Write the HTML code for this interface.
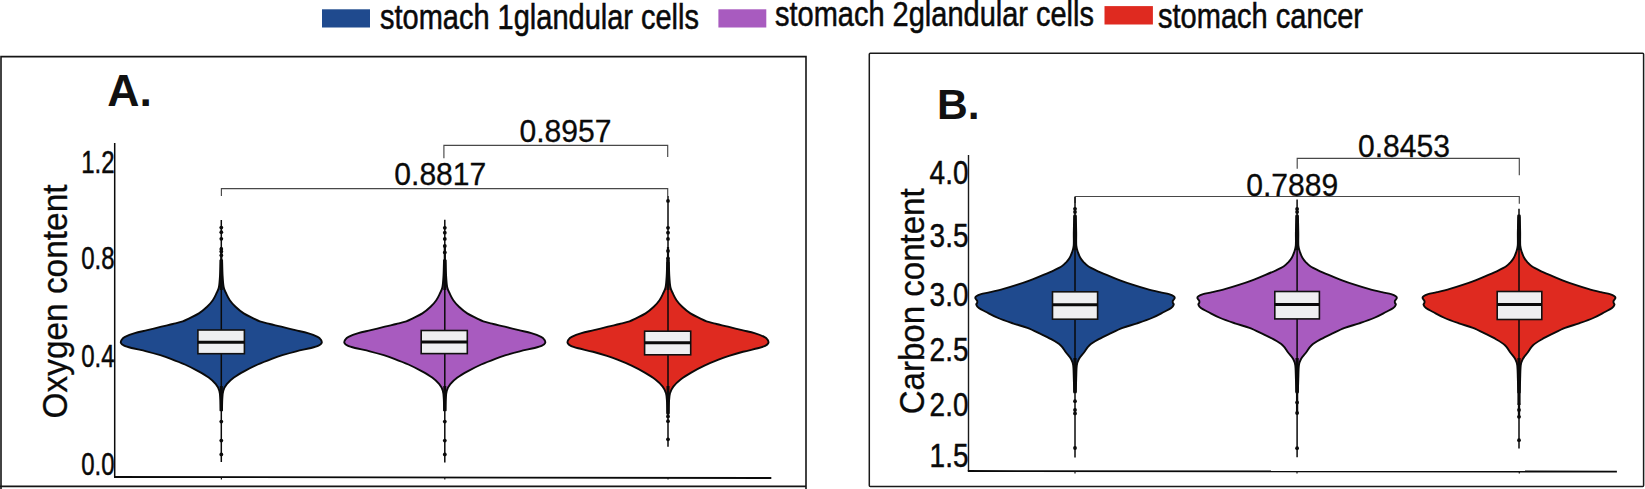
<!DOCTYPE html>
<html lang="en"><head><meta charset="utf-8"><title>Violin plots</title>
<style>html,body{margin:0;padding:0;background:#fff}body{width:1645px;height:489px;overflow:hidden}</style></head>
<body>
<svg width="1645" height="489" viewBox="0 0 1645 489" style="display:block" font-family="'Liberation Sans', Arial, Helvetica, sans-serif">
<rect width="1645" height="489" fill="#fff"/>
<rect x="322.0" y="9.3" width="48.0" height="18.2" fill="#1f4a8e"/>
<rect x="718.4" y="9.3" width="47.9" height="18.2" fill="#a85bbf"/>
<rect x="1104.5" y="6.1" width="48.4" height="18.4" fill="#df2a20"/>
<text x="380.0" y="29.0" font-size="35.8" textLength="319.0" lengthAdjust="spacingAndGlyphs" fill="#0a0a0a" stroke="#0a0a0a" stroke-width="0.55">stomach 1glandular cells</text>
<text x="775.0" y="25.5" font-size="35.8" textLength="319.0" lengthAdjust="spacingAndGlyphs" fill="#0a0a0a" stroke="#0a0a0a" stroke-width="0.55">stomach 2glandular cells</text>
<text x="1158.0" y="27.5" font-size="35.8" textLength="205.0" lengthAdjust="spacingAndGlyphs" fill="#0a0a0a" stroke="#0a0a0a" stroke-width="0.55">stomach cancer</text>
<path d="M1 489 V56.6 H806 V489 M0 486.4 H806.7" fill="none" stroke="#151515" stroke-width="1.6"/>
<rect x="869.3" y="53.3" width="774.3" height="433.2" rx="1" fill="none" stroke="#1a1a1a" stroke-width="1.5"/>
<text x="107.3" y="105.9" font-size="44.6" font-weight="bold" fill="#111">A.</text>
<text x="937" y="119.1" font-size="42.6" font-weight="bold" fill="#111">B.</text>
<path d="M114.7 142.9 V477.1" fill="none" stroke="#0a0a0a" stroke-width="1.5"/>
<path d="M114 477 L771.3 478" fill="none" stroke="#0a0a0a" stroke-width="1.8"/>
<line x1="221.4" y1="477" x2="221.4" y2="479.5" stroke="#111" stroke-width="1.2"/>
<line x1="444.8" y1="477" x2="444.8" y2="479.5" stroke="#111" stroke-width="1.2"/>
<line x1="668.0" y1="477" x2="668.0" y2="479.5" stroke="#111" stroke-width="1.2"/>
<path d="M968.5 155.1 V471" fill="none" stroke="#1a1a1a" stroke-width="1.4"/>
<path d="M967.8 471 L1616.9 471.6" fill="none" stroke="#0a0a0a" stroke-width="1.8"/>
<line x1="1075.0" y1="471" x2="1075.0" y2="473.5" stroke="#111" stroke-width="1.2"/>
<line x1="1297.0" y1="471" x2="1297.0" y2="473.5" stroke="#111" stroke-width="1.2"/>
<line x1="1519.3" y1="471" x2="1519.3" y2="473.5" stroke="#111" stroke-width="1.2"/>
<text transform="translate(114.6 172.7) scale(0.745 1)" text-anchor="end" font-size="32.2" fill="#0a0a0a" stroke="#0a0a0a" stroke-width="0.5">1.2</text>
<text transform="translate(114.6 269.2) scale(0.745 1)" text-anchor="end" font-size="32.2" fill="#0a0a0a" stroke="#0a0a0a" stroke-width="0.5">0.8</text>
<text transform="translate(114.6 367.2) scale(0.745 1)" text-anchor="end" font-size="32.2" fill="#0a0a0a" stroke="#0a0a0a" stroke-width="0.5">0.4</text>
<text transform="translate(114.6 474.8) scale(0.745 1)" text-anchor="end" font-size="32.2" fill="#0a0a0a" stroke="#0a0a0a" stroke-width="0.5">0.0</text>
<text transform="translate(968.5 184.2) scale(0.840 1)" text-anchor="end" font-size="33.3" fill="#0a0a0a" stroke="#0a0a0a" stroke-width="0.5">4.0</text>
<text transform="translate(968.5 247.2) scale(0.840 1)" text-anchor="end" font-size="33.3" fill="#0a0a0a" stroke="#0a0a0a" stroke-width="0.5">3.5</text>
<text transform="translate(968.5 305.7) scale(0.840 1)" text-anchor="end" font-size="33.3" fill="#0a0a0a" stroke="#0a0a0a" stroke-width="0.5">3.0</text>
<text transform="translate(968.5 360.5) scale(0.840 1)" text-anchor="end" font-size="33.3" fill="#0a0a0a" stroke="#0a0a0a" stroke-width="0.5">2.5</text>
<text transform="translate(968.5 415.7) scale(0.840 1)" text-anchor="end" font-size="33.3" fill="#0a0a0a" stroke="#0a0a0a" stroke-width="0.5">2.0</text>
<text transform="translate(968.5 466.9) scale(0.840 1)" text-anchor="end" font-size="33.3" fill="#0a0a0a" stroke="#0a0a0a" stroke-width="0.5">1.5</text>
<text transform="translate(67.4 418.5) rotate(-90)" font-size="35" textLength="234" lengthAdjust="spacingAndGlyphs" fill="#0a0a0a" stroke="#0a0a0a" stroke-width="0.3">Oxygen content</text>
<text transform="translate(924 414.3) rotate(-90)" font-size="34.5" textLength="226" lengthAdjust="spacingAndGlyphs" fill="#0a0a0a" stroke="#0a0a0a" stroke-width="0.3">Carbon content</text>
<path d="M443.9 158.2 V145.3 H667.7 V156.9" fill="none" stroke="#484848" stroke-width="1.15"/>
<path d="M221.4 195.9 V188.6 H667.7 V196.0" fill="none" stroke="#484848" stroke-width="1.15"/>
<path d="M1297.2 168.8 V158.3 H1519.3 V175.2" fill="none" stroke="#484848" stroke-width="1.15"/>
<path d="M1075.1 203.0 V196.5 H1519.3 V203.7" fill="none" stroke="#484848" stroke-width="1.15"/>
<text x="519.5" y="142.2" font-size="31.8" textLength="92" lengthAdjust="spacingAndGlyphs" fill="#0a0a0a" stroke="#0a0a0a" stroke-width="0.3">0.8957</text>
<text x="394.3" y="185.2" font-size="31.8" textLength="92" lengthAdjust="spacingAndGlyphs" fill="#0a0a0a" stroke="#0a0a0a" stroke-width="0.3">0.8817</text>
<text x="1358.0" y="157.4" font-size="31.8" textLength="92" lengthAdjust="spacingAndGlyphs" fill="#0a0a0a" stroke="#0a0a0a" stroke-width="0.3">0.8453</text>
<text x="1246.2" y="195.8" font-size="31.8" textLength="92" lengthAdjust="spacingAndGlyphs" fill="#0a0a0a" stroke="#0a0a0a" stroke-width="0.3">0.7889</text>
<path d="M220.50 260.20 C220.42 262.78 220.27 271.20 220.00 275.70 C219.73 280.20 219.52 284.20 218.90 287.20 C218.28 290.20 217.32 291.53 216.30 293.70 C215.28 295.87 214.33 298.02 212.80 300.20 C211.27 302.38 209.42 304.60 207.10 306.80 C204.78 309.00 201.87 311.48 198.90 313.40 C195.93 315.32 191.98 316.97 189.30 318.30 C186.62 319.63 185.55 320.45 182.80 321.40 C180.05 322.35 176.38 323.12 172.80 324.00 C169.22 324.88 165.55 325.67 161.30 326.70 C157.05 327.73 151.72 329.12 147.30 330.20 C142.88 331.28 138.52 332.08 134.80 333.20 C131.08 334.32 127.17 335.83 125.00 336.90 C122.83 337.97 122.48 338.62 121.80 339.60 C121.12 340.58 120.52 341.79 120.90 342.80 C121.28 343.81 122.33 344.80 124.10 345.66 C125.87 346.52 127.80 347.02 131.50 347.96 C135.20 348.90 141.50 350.09 146.30 351.30 C151.10 352.51 156.22 353.95 160.30 355.20 C164.38 356.45 166.70 357.25 170.80 358.80 C174.90 360.35 180.35 362.45 184.90 364.50 C189.45 366.55 194.13 368.92 198.10 371.10 C202.07 373.28 205.75 375.42 208.70 377.60 C211.65 379.78 214.03 382.02 215.80 384.20 C217.57 386.38 218.55 388.25 219.30 390.70 C220.05 393.15 220.08 395.62 220.30 398.90 C220.52 402.18 220.55 408.48 220.60 410.40 L222.00 410.40 C222.05 408.48 222.08 402.18 222.30 398.90 C222.52 395.62 222.55 393.15 223.30 390.70 C224.05 388.25 225.03 386.38 226.80 384.20 C228.57 382.02 230.95 379.78 233.90 377.60 C236.85 375.42 240.53 373.28 244.50 371.10 C248.47 368.92 253.15 366.55 257.70 364.50 C262.25 362.45 267.70 360.35 271.80 358.80 C275.90 357.25 278.22 356.45 282.30 355.20 C286.38 353.95 291.50 352.51 296.30 351.30 C301.10 350.09 307.40 348.90 311.10 347.96 C314.80 347.02 316.73 346.52 318.50 345.66 C320.27 344.80 321.32 343.81 321.70 342.80 C322.08 341.79 321.48 340.58 320.80 339.60 C320.12 338.62 319.77 337.97 317.60 336.90 C315.43 335.83 311.52 334.32 307.80 333.20 C304.08 332.08 299.72 331.28 295.30 330.20 C290.88 329.12 285.55 327.73 281.30 326.70 C277.05 325.67 273.38 324.88 269.80 324.00 C266.22 323.12 262.55 322.35 259.80 321.40 C257.05 320.45 255.98 319.63 253.30 318.30 C250.62 316.97 246.67 315.32 243.70 313.40 C240.73 311.48 237.82 309.00 235.50 306.80 C233.18 304.60 231.33 302.38 229.80 300.20 C228.27 298.02 227.32 295.87 226.30 293.70 C225.28 291.53 224.32 290.20 223.70 287.20 C223.08 284.20 222.87 280.20 222.60 275.70 C222.33 271.20 222.18 262.78 222.10 260.20 Z" fill="#1f4a8e" stroke="#0a0a0a" stroke-width="1.9" stroke-linejoin="round"/>
<line x1="221.3" y1="220.0" x2="221.3" y2="462.0" stroke="#0a0a0a" stroke-width="1.5"/>
<line x1="221.3" y1="247.0" x2="221.3" y2="262.0" stroke="#0a0a0a" stroke-width="2.2"/>
<line x1="221.3" y1="260.0" x2="221.3" y2="290.0" stroke="#0a0a0a" stroke-width="3.0"/>
<line x1="221.3" y1="386.0" x2="221.3" y2="411.0" stroke="#0a0a0a" stroke-width="3.0"/>
<circle cx="221.3" cy="227.6" r="1.9" fill="#0a0a0a"/>
<circle cx="221.3" cy="232.2" r="1.9" fill="#0a0a0a"/>
<circle cx="221.3" cy="238.8" r="1.9" fill="#0a0a0a"/>
<circle cx="221.3" cy="249.1" r="1.9" fill="#0a0a0a"/>
<circle cx="221.3" cy="251.6" r="1.9" fill="#0a0a0a"/>
<circle cx="221.3" cy="255.3" r="1.9" fill="#0a0a0a"/>
<circle cx="221.3" cy="421.6" r="1.9" fill="#0a0a0a"/>
<circle cx="221.3" cy="440.6" r="1.9" fill="#0a0a0a"/>
<circle cx="221.3" cy="454.4" r="1.9" fill="#0a0a0a"/>
<rect x="197.9" y="330.0" width="46.5" height="23.7" fill="#eeeff1" stroke="#111" stroke-width="1.6"/>
<line x1="197.9" y1="342.3" x2="244.4" y2="342.3" stroke="#0a0a0a" stroke-width="3"/>
<path d="M444.00 260.20 C443.92 262.78 443.77 271.20 443.50 275.70 C443.23 280.20 443.02 284.20 442.40 287.20 C441.78 290.20 440.82 291.53 439.80 293.70 C438.78 295.87 437.83 298.02 436.30 300.20 C434.77 302.38 432.92 304.60 430.60 306.80 C428.28 309.00 425.37 311.48 422.40 313.40 C419.43 315.32 415.48 316.97 412.80 318.30 C410.12 319.63 409.05 320.45 406.30 321.40 C403.55 322.35 399.88 323.12 396.30 324.00 C392.72 324.88 389.05 325.67 384.80 326.70 C380.55 327.73 375.22 329.12 370.80 330.20 C366.38 331.28 362.02 332.08 358.30 333.20 C354.58 334.32 350.67 335.83 348.50 336.90 C346.33 337.97 345.98 338.62 345.30 339.60 C344.62 340.58 344.02 341.79 344.40 342.80 C344.78 343.81 345.83 344.80 347.60 345.66 C349.37 346.52 351.30 347.02 355.00 347.96 C358.70 348.90 365.00 350.09 369.80 351.30 C374.60 352.51 379.72 353.95 383.80 355.20 C387.88 356.45 390.20 357.25 394.30 358.80 C398.40 360.35 403.85 362.45 408.40 364.50 C412.95 366.55 417.63 368.92 421.60 371.10 C425.57 373.28 429.25 375.42 432.20 377.60 C435.15 379.78 437.53 382.02 439.30 384.20 C441.07 386.38 442.05 388.25 442.80 390.70 C443.55 393.15 443.58 395.62 443.80 398.90 C444.02 402.18 444.05 408.48 444.10 410.40 L445.50 410.40 C445.55 408.48 445.58 402.18 445.80 398.90 C446.02 395.62 446.05 393.15 446.80 390.70 C447.55 388.25 448.53 386.38 450.30 384.20 C452.07 382.02 454.45 379.78 457.40 377.60 C460.35 375.42 464.03 373.28 468.00 371.10 C471.97 368.92 476.65 366.55 481.20 364.50 C485.75 362.45 491.20 360.35 495.30 358.80 C499.40 357.25 501.72 356.45 505.80 355.20 C509.88 353.95 515.00 352.51 519.80 351.30 C524.60 350.09 530.90 348.90 534.60 347.96 C538.30 347.02 540.23 346.52 542.00 345.66 C543.77 344.80 544.82 343.81 545.20 342.80 C545.58 341.79 544.98 340.58 544.30 339.60 C543.62 338.62 543.27 337.97 541.10 336.90 C538.93 335.83 535.02 334.32 531.30 333.20 C527.58 332.08 523.22 331.28 518.80 330.20 C514.38 329.12 509.05 327.73 504.80 326.70 C500.55 325.67 496.88 324.88 493.30 324.00 C489.72 323.12 486.05 322.35 483.30 321.40 C480.55 320.45 479.48 319.63 476.80 318.30 C474.12 316.97 470.17 315.32 467.20 313.40 C464.23 311.48 461.32 309.00 459.00 306.80 C456.68 304.60 454.83 302.38 453.30 300.20 C451.77 298.02 450.82 295.87 449.80 293.70 C448.78 291.53 447.82 290.20 447.20 287.20 C446.58 284.20 446.37 280.20 446.10 275.70 C445.83 271.20 445.68 262.78 445.60 260.20 Z" fill="#a85bbf" stroke="#0a0a0a" stroke-width="1.9" stroke-linejoin="round"/>
<line x1="444.8" y1="219.7" x2="444.8" y2="462.5" stroke="#0a0a0a" stroke-width="1.5"/>
<line x1="444.8" y1="247.0" x2="444.8" y2="262.0" stroke="#0a0a0a" stroke-width="2.2"/>
<line x1="444.8" y1="260.0" x2="444.8" y2="290.0" stroke="#0a0a0a" stroke-width="3.0"/>
<line x1="444.8" y1="386.0" x2="444.8" y2="411.0" stroke="#0a0a0a" stroke-width="3.0"/>
<circle cx="444.8" cy="227.8" r="1.9" fill="#0a0a0a"/>
<circle cx="444.8" cy="232.7" r="1.9" fill="#0a0a0a"/>
<circle cx="444.8" cy="238.9" r="1.9" fill="#0a0a0a"/>
<circle cx="444.8" cy="246.0" r="1.9" fill="#0a0a0a"/>
<circle cx="444.8" cy="252.4" r="1.9" fill="#0a0a0a"/>
<circle cx="444.8" cy="421.6" r="1.9" fill="#0a0a0a"/>
<circle cx="444.8" cy="440.6" r="1.9" fill="#0a0a0a"/>
<circle cx="444.8" cy="454.4" r="1.9" fill="#0a0a0a"/>
<rect x="421.2" y="330.5" width="46.1" height="23.1" fill="#eeeff1" stroke="#111" stroke-width="1.6"/>
<line x1="421.2" y1="342.0" x2="467.3" y2="342.0" stroke="#0a0a0a" stroke-width="3"/>
<path d="M667.20 260.20 C667.12 262.78 666.97 271.20 666.70 275.70 C666.43 280.20 666.22 284.20 665.60 287.20 C664.98 290.20 664.02 291.53 663.00 293.70 C661.98 295.87 661.03 298.02 659.50 300.20 C657.97 302.38 656.12 304.60 653.80 306.80 C651.48 309.00 648.57 311.48 645.60 313.40 C642.63 315.32 638.68 316.97 636.00 318.30 C633.32 319.63 632.25 320.45 629.50 321.40 C626.75 322.35 623.08 323.12 619.50 324.00 C615.92 324.88 612.25 325.67 608.00 326.70 C603.75 327.73 598.42 329.12 594.00 330.20 C589.58 331.28 585.22 332.08 581.50 333.20 C577.78 334.32 573.87 335.83 571.70 336.90 C569.53 337.97 569.18 338.61 568.50 339.60 C567.82 340.59 567.22 341.82 567.60 342.86 C567.98 343.90 569.03 344.97 570.80 345.87 C572.57 346.77 574.50 347.29 578.20 348.28 C581.90 349.26 588.20 350.52 593.00 351.79 C597.80 353.05 602.92 354.57 607.00 355.88 C611.08 357.19 613.40 358.03 617.50 359.66 C621.60 361.29 627.05 363.49 631.60 365.64 C636.15 367.80 640.83 370.28 644.80 372.58 C648.77 374.87 652.45 377.11 655.40 379.40 C658.35 381.69 660.73 384.04 662.50 386.33 C664.27 388.62 665.25 390.58 666.00 393.15 C666.75 395.73 666.78 398.32 667.00 401.76 C667.22 405.21 667.25 411.83 667.30 413.84 L668.70 413.84 C668.75 411.83 668.78 405.21 669.00 401.76 C669.22 398.32 669.25 395.73 670.00 393.15 C670.75 390.58 671.73 388.62 673.50 386.33 C675.27 384.04 677.65 381.69 680.60 379.40 C683.55 377.11 687.23 374.87 691.20 372.58 C695.17 370.28 699.85 367.80 704.40 365.64 C708.95 363.49 714.40 361.29 718.50 359.66 C722.60 358.03 724.92 357.19 729.00 355.88 C733.08 354.57 738.20 353.05 743.00 351.79 C747.80 350.52 754.10 349.26 757.80 348.28 C761.50 347.29 763.43 346.77 765.20 345.87 C766.97 344.97 768.02 343.90 768.40 342.86 C768.78 341.82 768.18 340.59 767.50 339.60 C766.82 338.61 766.47 337.97 764.30 336.90 C762.13 335.83 758.22 334.32 754.50 333.20 C750.78 332.08 746.42 331.28 742.00 330.20 C737.58 329.12 732.25 327.73 728.00 326.70 C723.75 325.67 720.08 324.88 716.50 324.00 C712.92 323.12 709.25 322.35 706.50 321.40 C703.75 320.45 702.68 319.63 700.00 318.30 C697.32 316.97 693.37 315.32 690.40 313.40 C687.43 311.48 684.52 309.00 682.20 306.80 C679.88 304.60 678.03 302.38 676.50 300.20 C674.97 298.02 674.02 295.87 673.00 293.70 C671.98 291.53 671.02 290.20 670.40 287.20 C669.78 284.20 669.57 280.20 669.30 275.70 C669.03 271.20 668.88 262.78 668.80 260.20 Z" fill="#df2a20" stroke="#0a0a0a" stroke-width="1.9" stroke-linejoin="round"/>
<line x1="668.0" y1="196.0" x2="668.0" y2="446.8" stroke="#0a0a0a" stroke-width="1.5"/>
<line x1="668.0" y1="247.0" x2="668.0" y2="264.0" stroke="#0a0a0a" stroke-width="2.2"/>
<line x1="668.0" y1="262.0" x2="668.0" y2="290.0" stroke="#0a0a0a" stroke-width="3.0"/>
<line x1="668.0" y1="386.0" x2="668.0" y2="413.5" stroke="#0a0a0a" stroke-width="3.0"/>
<circle cx="668.0" cy="200.9" r="1.9" fill="#0a0a0a"/>
<circle cx="668.0" cy="227.8" r="1.9" fill="#0a0a0a"/>
<circle cx="668.0" cy="232.7" r="1.9" fill="#0a0a0a"/>
<circle cx="668.0" cy="238.9" r="1.9" fill="#0a0a0a"/>
<circle cx="668.0" cy="251.0" r="1.9" fill="#0a0a0a"/>
<circle cx="668.0" cy="258.5" r="1.9" fill="#0a0a0a"/>
<circle cx="668.0" cy="416.5" r="1.9" fill="#0a0a0a"/>
<circle cx="668.0" cy="421.2" r="1.9" fill="#0a0a0a"/>
<circle cx="668.0" cy="439.3" r="1.9" fill="#0a0a0a"/>
<rect x="644.6" y="331.2" width="46.1" height="23.6" fill="#eeeff1" stroke="#111" stroke-width="1.6"/>
<line x1="644.6" y1="342.7" x2="690.7" y2="342.7" stroke="#0a0a0a" stroke-width="3"/>
<path d="M1074.20 215.40 C1074.13 218.23 1073.88 227.35 1073.80 232.40 C1073.72 237.45 1074.00 242.37 1073.70 245.70 C1073.40 249.03 1072.67 250.40 1072.00 252.40 C1071.33 254.40 1070.67 256.05 1069.70 257.70 C1068.73 259.35 1067.52 260.87 1066.20 262.30 C1064.88 263.73 1063.83 264.97 1061.80 266.30 C1059.77 267.63 1057.07 268.87 1054.00 270.30 C1050.93 271.73 1047.40 273.23 1043.40 274.90 C1039.40 276.57 1034.45 278.63 1030.00 280.30 C1025.55 281.97 1021.12 283.47 1016.70 284.90 C1012.28 286.33 1007.92 287.68 1003.50 288.90 C999.08 290.12 993.95 291.32 990.20 292.20 C986.45 293.08 983.32 293.53 981.00 294.20 C978.68 294.87 977.25 295.53 976.30 296.20 C975.35 296.87 975.17 297.45 975.30 298.20 C975.43 298.95 976.78 299.93 977.10 300.70 C977.42 301.47 977.33 302.13 977.20 302.80 C977.07 303.47 976.03 303.83 976.30 304.70 C976.57 305.57 977.15 306.78 978.80 308.00 C980.45 309.22 982.97 310.33 986.20 312.00 C989.43 313.67 993.77 316.12 998.20 318.00 C1002.63 319.88 1007.93 321.65 1012.80 323.30 C1017.67 324.95 1022.77 326.13 1027.40 327.90 C1032.03 329.67 1036.63 332.02 1040.60 333.90 C1044.57 335.78 1047.88 337.32 1051.20 339.20 C1054.52 341.08 1058.03 342.98 1060.50 345.20 C1062.97 347.42 1064.22 350.17 1066.00 352.50 C1067.78 354.83 1070.00 357.05 1071.20 359.20 C1072.40 361.35 1072.77 362.20 1073.20 365.40 C1073.63 368.60 1073.63 373.90 1073.80 378.40 C1073.97 382.90 1074.13 390.07 1074.20 392.40 L1075.80 392.40 C1075.87 390.07 1076.03 382.90 1076.20 378.40 C1076.37 373.90 1076.37 368.60 1076.80 365.40 C1077.23 362.20 1077.60 361.35 1078.80 359.20 C1080.00 357.05 1082.22 354.83 1084.00 352.50 C1085.78 350.17 1087.03 347.42 1089.50 345.20 C1091.97 342.98 1095.48 341.08 1098.80 339.20 C1102.12 337.32 1105.43 335.78 1109.40 333.90 C1113.37 332.02 1117.97 329.67 1122.60 327.90 C1127.23 326.13 1132.33 324.95 1137.20 323.30 C1142.07 321.65 1147.37 319.88 1151.80 318.00 C1156.23 316.12 1160.57 313.67 1163.80 312.00 C1167.03 310.33 1169.55 309.22 1171.20 308.00 C1172.85 306.78 1173.43 305.57 1173.70 304.70 C1173.97 303.83 1172.93 303.47 1172.80 302.80 C1172.67 302.13 1172.58 301.47 1172.90 300.70 C1173.22 299.93 1174.57 298.95 1174.70 298.20 C1174.83 297.45 1174.65 296.87 1173.70 296.20 C1172.75 295.53 1171.32 294.87 1169.00 294.20 C1166.68 293.53 1163.55 293.08 1159.80 292.20 C1156.05 291.32 1150.92 290.12 1146.50 288.90 C1142.08 287.68 1137.72 286.33 1133.30 284.90 C1128.88 283.47 1124.45 281.97 1120.00 280.30 C1115.55 278.63 1110.60 276.57 1106.60 274.90 C1102.60 273.23 1099.07 271.73 1096.00 270.30 C1092.93 268.87 1090.23 267.63 1088.20 266.30 C1086.17 264.97 1085.12 263.73 1083.80 262.30 C1082.48 260.87 1081.27 259.35 1080.30 257.70 C1079.33 256.05 1078.67 254.40 1078.00 252.40 C1077.33 250.40 1076.60 249.03 1076.30 245.70 C1076.00 242.37 1076.28 237.45 1076.20 232.40 C1076.12 227.35 1075.87 218.23 1075.80 215.40 Z" fill="#1f4a8e" stroke="#0a0a0a" stroke-width="1.9" stroke-linejoin="round"/>
<line x1="1075.0" y1="197.0" x2="1075.0" y2="457.6" stroke="#0a0a0a" stroke-width="1.5"/>
<line x1="1075.0" y1="216.0" x2="1075.0" y2="234.0" stroke="#0a0a0a" stroke-width="2.8"/>
<line x1="1075.0" y1="232.0" x2="1075.0" y2="250.0" stroke="#0a0a0a" stroke-width="3.4"/>
<line x1="1075.0" y1="358.0" x2="1075.0" y2="392.0" stroke="#0a0a0a" stroke-width="3.2"/>
<circle cx="1075.0" cy="208.8" r="1.9" fill="#0a0a0a"/>
<circle cx="1075.0" cy="212.0" r="1.9" fill="#0a0a0a"/>
<circle cx="1075.0" cy="401.2" r="1.9" fill="#0a0a0a"/>
<circle cx="1075.0" cy="410.0" r="1.9" fill="#0a0a0a"/>
<circle cx="1075.0" cy="413.4" r="1.9" fill="#0a0a0a"/>
<circle cx="1075.0" cy="448.0" r="1.9" fill="#0a0a0a"/>
<rect x="1052.5" y="291.8" width="45.1" height="27.4" fill="#eeeff1" stroke="#111" stroke-width="1.6"/>
<line x1="1052.5" y1="304.7" x2="1097.6" y2="304.7" stroke="#0a0a0a" stroke-width="3"/>
<path d="M1296.30 215.40 C1296.23 218.23 1295.98 227.35 1295.90 232.40 C1295.82 237.45 1296.10 242.37 1295.80 245.70 C1295.50 249.03 1294.77 250.40 1294.10 252.40 C1293.43 254.40 1292.77 256.05 1291.80 257.70 C1290.83 259.35 1289.62 260.87 1288.30 262.30 C1286.98 263.73 1285.93 264.97 1283.90 266.30 C1281.87 267.63 1279.17 268.87 1276.10 270.30 C1273.03 271.73 1269.50 273.23 1265.50 274.90 C1261.50 276.57 1256.55 278.63 1252.10 280.30 C1247.65 281.97 1243.22 283.47 1238.80 284.90 C1234.38 286.33 1230.02 287.68 1225.60 288.90 C1221.18 290.12 1216.05 291.32 1212.30 292.20 C1208.55 293.08 1205.42 293.53 1203.10 294.20 C1200.78 294.87 1199.35 295.53 1198.40 296.20 C1197.45 296.87 1197.27 297.45 1197.40 298.20 C1197.53 298.95 1198.88 299.93 1199.20 300.70 C1199.52 301.47 1199.43 302.13 1199.30 302.80 C1199.17 303.47 1198.13 303.83 1198.40 304.70 C1198.67 305.57 1199.25 306.78 1200.90 308.00 C1202.55 309.22 1205.07 310.33 1208.30 312.00 C1211.53 313.67 1215.87 316.12 1220.30 318.00 C1224.73 319.88 1230.03 321.65 1234.90 323.30 C1239.77 324.95 1244.87 326.13 1249.50 327.90 C1254.13 329.67 1258.73 332.02 1262.70 333.90 C1266.67 335.78 1269.98 337.32 1273.30 339.20 C1276.62 341.08 1280.13 342.98 1282.60 345.20 C1285.07 347.42 1286.32 350.17 1288.10 352.50 C1289.88 354.83 1292.10 357.05 1293.30 359.20 C1294.50 361.35 1294.87 362.20 1295.30 365.40 C1295.73 368.60 1295.73 373.90 1295.90 378.40 C1296.07 382.90 1296.23 390.07 1296.30 392.40 L1297.90 392.40 C1297.97 390.07 1298.13 382.90 1298.30 378.40 C1298.47 373.90 1298.47 368.60 1298.90 365.40 C1299.33 362.20 1299.70 361.35 1300.90 359.20 C1302.10 357.05 1304.32 354.83 1306.10 352.50 C1307.88 350.17 1309.13 347.42 1311.60 345.20 C1314.07 342.98 1317.58 341.08 1320.90 339.20 C1324.22 337.32 1327.53 335.78 1331.50 333.90 C1335.47 332.02 1340.07 329.67 1344.70 327.90 C1349.33 326.13 1354.43 324.95 1359.30 323.30 C1364.17 321.65 1369.47 319.88 1373.90 318.00 C1378.33 316.12 1382.67 313.67 1385.90 312.00 C1389.13 310.33 1391.65 309.22 1393.30 308.00 C1394.95 306.78 1395.53 305.57 1395.80 304.70 C1396.07 303.83 1395.03 303.47 1394.90 302.80 C1394.77 302.13 1394.68 301.47 1395.00 300.70 C1395.32 299.93 1396.67 298.95 1396.80 298.20 C1396.93 297.45 1396.75 296.87 1395.80 296.20 C1394.85 295.53 1393.42 294.87 1391.10 294.20 C1388.78 293.53 1385.65 293.08 1381.90 292.20 C1378.15 291.32 1373.02 290.12 1368.60 288.90 C1364.18 287.68 1359.82 286.33 1355.40 284.90 C1350.98 283.47 1346.55 281.97 1342.10 280.30 C1337.65 278.63 1332.70 276.57 1328.70 274.90 C1324.70 273.23 1321.17 271.73 1318.10 270.30 C1315.03 268.87 1312.33 267.63 1310.30 266.30 C1308.27 264.97 1307.22 263.73 1305.90 262.30 C1304.58 260.87 1303.37 259.35 1302.40 257.70 C1301.43 256.05 1300.77 254.40 1300.10 252.40 C1299.43 250.40 1298.70 249.03 1298.40 245.70 C1298.10 242.37 1298.38 237.45 1298.30 232.40 C1298.22 227.35 1297.97 218.23 1297.90 215.40 Z" fill="#a85bbf" stroke="#0a0a0a" stroke-width="1.9" stroke-linejoin="round"/>
<line x1="1297.1" y1="199.4" x2="1297.1" y2="457.3" stroke="#0a0a0a" stroke-width="1.5"/>
<line x1="1297.1" y1="216.0" x2="1297.1" y2="234.0" stroke="#0a0a0a" stroke-width="2.8"/>
<line x1="1297.1" y1="232.0" x2="1297.1" y2="250.0" stroke="#0a0a0a" stroke-width="3.4"/>
<line x1="1297.1" y1="358.0" x2="1297.1" y2="392.0" stroke="#0a0a0a" stroke-width="3.2"/>
<line x1="1297.1" y1="390.0" x2="1297.1" y2="414.0" stroke="#0a0a0a" stroke-width="2.3"/>
<circle cx="1297.1" cy="209.0" r="1.9" fill="#0a0a0a"/>
<circle cx="1297.1" cy="212.0" r="1.9" fill="#0a0a0a"/>
<circle cx="1297.1" cy="402.5" r="1.9" fill="#0a0a0a"/>
<circle cx="1297.1" cy="413.0" r="1.9" fill="#0a0a0a"/>
<circle cx="1297.1" cy="448.2" r="1.9" fill="#0a0a0a"/>
<rect x="1274.8" y="291.5" width="44.6" height="27.4" fill="#eeeff1" stroke="#111" stroke-width="1.6"/>
<line x1="1274.8" y1="304.5" x2="1319.4" y2="304.5" stroke="#0a0a0a" stroke-width="3"/>
<path d="M1518.23 215.40 C1518.16 218.23 1517.92 227.35 1517.84 232.40 C1517.76 237.45 1518.03 242.37 1517.74 245.70 C1517.45 249.03 1516.74 250.40 1516.10 252.40 C1515.45 254.40 1514.81 256.05 1513.87 257.70 C1512.94 259.35 1511.76 260.87 1510.49 262.30 C1509.22 263.73 1508.20 264.97 1506.24 266.30 C1504.27 267.63 1501.66 268.87 1498.69 270.30 C1495.73 271.73 1492.31 273.23 1488.44 274.90 C1484.57 276.57 1479.79 278.63 1475.48 280.30 C1471.18 281.97 1466.89 283.47 1462.62 284.90 C1458.35 286.33 1454.13 287.68 1449.86 288.90 C1445.59 290.12 1440.62 291.32 1437.00 292.20 C1433.37 293.08 1430.34 293.53 1428.10 294.20 C1425.86 294.87 1424.48 295.53 1423.56 296.20 C1422.64 296.87 1422.46 297.45 1422.59 298.20 C1422.72 298.95 1424.02 299.93 1424.33 300.70 C1424.64 301.47 1424.56 302.13 1424.43 302.80 C1424.30 303.47 1423.30 303.83 1423.56 304.70 C1423.81 305.57 1424.38 306.78 1425.97 308.00 C1427.57 309.22 1430.00 310.33 1433.13 312.00 C1436.26 313.67 1440.45 316.12 1444.73 318.00 C1449.02 319.88 1454.15 321.65 1458.85 323.30 C1463.56 324.95 1468.49 326.13 1472.97 327.90 C1477.45 329.67 1481.90 332.02 1485.74 333.90 C1489.57 335.78 1492.78 337.32 1495.99 339.20 C1499.19 341.08 1502.59 342.98 1504.98 345.20 C1507.36 347.42 1508.57 350.17 1510.30 352.50 C1512.02 354.83 1514.16 357.05 1515.33 359.20 C1516.49 361.35 1516.84 362.20 1517.26 365.40 C1517.68 368.60 1517.68 373.90 1517.84 378.40 C1518.00 382.90 1518.16 390.07 1518.23 392.40 L1519.77 392.40 C1519.84 390.07 1520.00 382.90 1520.16 378.40 C1520.32 373.90 1520.32 368.60 1520.74 365.40 C1521.16 362.20 1521.51 361.35 1522.67 359.20 C1523.84 357.05 1525.98 354.83 1527.70 352.50 C1529.43 350.17 1530.64 347.42 1533.02 345.20 C1535.41 342.98 1538.81 341.08 1542.01 339.20 C1545.22 337.32 1548.43 335.78 1552.26 333.90 C1556.10 332.02 1560.55 329.67 1565.03 327.90 C1569.51 326.13 1574.44 324.95 1579.15 323.30 C1583.85 321.65 1588.98 319.88 1593.27 318.00 C1597.55 316.12 1601.74 313.67 1604.87 312.00 C1608.00 310.33 1610.43 309.22 1612.03 308.00 C1613.62 306.78 1614.19 305.57 1614.44 304.70 C1614.70 303.83 1613.70 303.47 1613.57 302.80 C1613.44 302.13 1613.36 301.47 1613.67 300.70 C1613.98 299.93 1615.28 298.95 1615.41 298.20 C1615.54 297.45 1615.36 296.87 1614.44 296.20 C1613.52 295.53 1612.14 294.87 1609.90 294.20 C1607.66 293.53 1604.63 293.08 1601.00 292.20 C1597.38 291.32 1592.41 290.12 1588.14 288.90 C1583.87 287.68 1579.65 286.33 1575.38 284.90 C1571.11 283.47 1566.82 281.97 1562.52 280.30 C1558.21 278.63 1553.43 276.57 1549.56 274.90 C1545.69 273.23 1542.27 271.73 1539.31 270.30 C1536.34 268.87 1533.73 267.63 1531.76 266.30 C1529.80 264.97 1528.78 263.73 1527.51 262.30 C1526.24 260.87 1525.06 259.35 1524.13 257.70 C1523.19 256.05 1522.55 254.40 1521.90 252.40 C1521.26 250.40 1520.55 249.03 1520.26 245.70 C1519.97 242.37 1520.24 237.45 1520.16 232.40 C1520.08 227.35 1519.84 218.23 1519.77 215.40 Z" fill="#df2a20" stroke="#0a0a0a" stroke-width="1.9" stroke-linejoin="round"/>
<line x1="1519.0" y1="208.8" x2="1519.0" y2="448.6" stroke="#0a0a0a" stroke-width="1.5"/>
<line x1="1519.0" y1="216.5" x2="1519.0" y2="234.0" stroke="#0a0a0a" stroke-width="2.8"/>
<line x1="1519.0" y1="232.0" x2="1519.0" y2="250.0" stroke="#0a0a0a" stroke-width="3.4"/>
<line x1="1519.0" y1="358.0" x2="1519.0" y2="405.0" stroke="#0a0a0a" stroke-width="3.2"/>
<line x1="1519.0" y1="403.0" x2="1519.0" y2="418.0" stroke="#0a0a0a" stroke-width="2.3"/>
<circle cx="1519.0" cy="410.0" r="1.9" fill="#0a0a0a"/>
<circle cx="1519.0" cy="416.8" r="1.9" fill="#0a0a0a"/>
<circle cx="1519.0" cy="440.2" r="1.9" fill="#0a0a0a"/>
<rect x="1497.2" y="291.5" width="44.6" height="28.0" fill="#eeeff1" stroke="#111" stroke-width="1.6"/>
<line x1="1497.2" y1="304.5" x2="1541.8" y2="304.5" stroke="#0a0a0a" stroke-width="3"/>
</svg>
</body></html>
